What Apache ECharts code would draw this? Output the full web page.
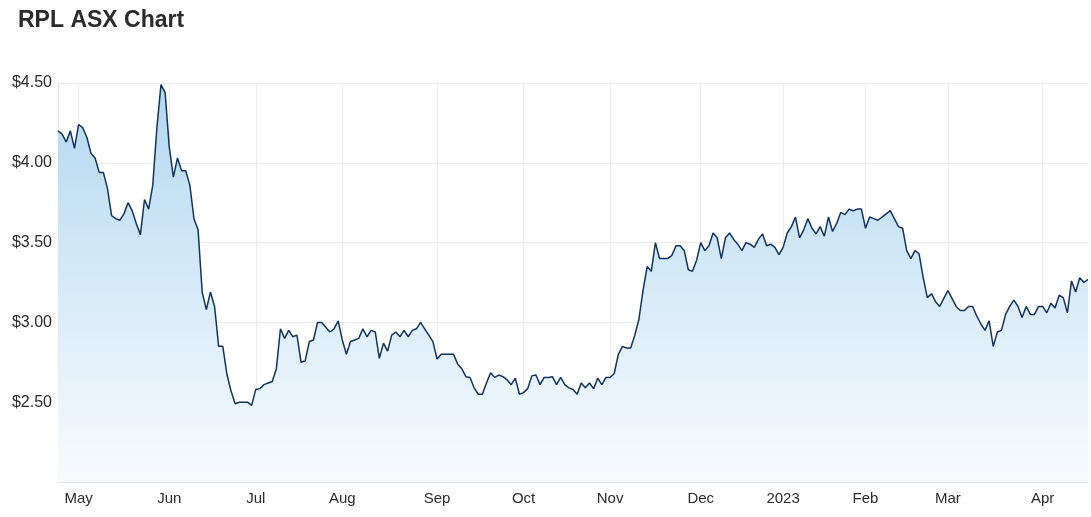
<!DOCTYPE html>
<html>
<head>
<meta charset="utf-8">
<title>RPL ASX Chart</title>
<script src="https://cdn.jsdelivr.net/npm/echarts@6/dist/echarts.min.js"></script>
<style>
  html, body { margin: 0; padding: 0; background: #ffffff; }
  #chart { width: 1091px; height: 517px; }
</style>
</head>
<body>
<div id="chart"></div>
<script>
  // trading days from 22 Apr 2022, ASX holidays skipped
  const startDate = '2022-04-22';
  const holidays = [
    '2022-04-25', '2022-06-13', '2022-09-22', '2022-12-26', '2022-12-27',
    '2023-01-02', '2023-01-26', '2023-04-07', '2023-04-10',
  ];
  const monthNames = ['Jan', 'Feb', 'Mar', 'Apr', 'May', 'Jun', 'Jul', 'Aug', 'Sep', 'Oct', 'Nov', 'Dec'];

  // closing prices
  const prices = [
    4.20, 4.18, 4.13, 4.20, 4.09, 4.24, 4.22, 4.16, 4.06, 4.03,
    3.94, 3.94, 3.84, 3.67, 3.65, 3.64, 3.68, 3.75, 3.70, 3.62,
    3.55, 3.77, 3.71, 3.86, 4.22, 4.49, 4.44, 4.10, 3.91, 4.03,
    3.95, 3.95, 3.86, 3.65, 3.58, 3.19, 3.08, 3.19, 3.10, 2.85,
    2.85, 2.675, 2.57, 2.49, 2.50, 2.50, 2.50, 2.48, 2.58, 2.585,
    2.61, 2.62, 2.63, 2.71, 2.96, 2.90, 2.95, 2.91, 2.92, 2.75,
    2.76, 2.88, 2.89, 3.00, 3.00, 2.97, 2.94, 2.96, 3.01, 2.89,
    2.80, 2.88, 2.89, 2.90, 2.96, 2.91, 2.95, 2.94, 2.775, 2.87,
    2.82, 2.92, 2.94, 2.91, 2.95, 2.91, 2.95, 2.96, 3.00, 2.96,
    2.92, 2.88, 2.77, 2.80, 2.80, 2.80, 2.80, 2.74, 2.71, 2.66,
    2.655, 2.59, 2.55, 2.55, 2.62, 2.685, 2.655, 2.67, 2.66, 2.64,
    2.61, 2.65, 2.55, 2.56, 2.585, 2.665, 2.67, 2.61, 2.655, 2.655,
    2.66, 2.61, 2.655, 2.61, 2.59, 2.58, 2.55, 2.62, 2.59, 2.62,
    2.585, 2.65, 2.61, 2.655, 2.655, 2.68, 2.80, 2.85, 2.84, 2.84,
    2.92, 3.02, 3.20, 3.35, 3.32, 3.50, 3.40, 3.40, 3.40, 3.42,
    3.48, 3.48, 3.45, 3.33, 3.32, 3.39, 3.50, 3.45, 3.48, 3.56,
    3.53, 3.40, 3.53, 3.56, 3.52, 3.49, 3.45, 3.50, 3.49, 3.47,
    3.52, 3.555, 3.48, 3.49, 3.47, 3.425, 3.47, 3.56, 3.60, 3.66,
    3.53, 3.58, 3.65, 3.59, 3.555, 3.60, 3.54, 3.66, 3.57, 3.62,
    3.69, 3.675, 3.71, 3.70, 3.71, 3.71, 3.59, 3.66, 3.65, 3.64,
    3.66, 3.68, 3.70, 3.65, 3.60, 3.59, 3.45, 3.40, 3.45, 3.43,
    3.28, 3.155, 3.18, 3.13, 3.10, 3.15, 3.20, 3.15, 3.10, 3.075,
    3.075, 3.10, 3.10, 3.04, 2.99, 2.95, 3.01, 2.85, 2.94, 2.95,
    3.05, 3.10, 3.14, 3.10, 3.03, 3.10, 3.05, 3.05, 3.10, 3.10,
    3.06, 3.12, 3.09, 3.17, 3.155, 3.06, 3.26, 3.19, 3.28, 3.25,
    3.27,
  ];

  const yTicks = [2.5, 3.0, 3.5, 4.0, 4.5];

  const tradingDays = [];
  const d = new Date(startDate + 'T00:00:00Z');
  while (tradingDays.length < prices.length) {
    const iso = d.toISOString().slice(0, 10);
    const wd = d.getUTCDay();
    if (wd !== 0 && wd !== 6 && holidays.indexOf(iso) === -1) tradingDays.push(iso);
    d.setUTCDate(d.getUTCDate() + 1);
  }

  // first trading day of each month gets a label and a grid line
  const isMonthStart = (i) => i > 0 && tradingDays[i].slice(5, 7) !== tradingDays[i - 1].slice(5, 7);
  const monthLabel = (iso) => {
    const m = parseInt(iso.slice(5, 7), 10) - 1;
    return m === 0 ? iso.slice(0, 4) : monthNames[m];
  };

  const myChart = echarts.init(document.getElementById('chart'));
  myChart.setOption({
    animation: false,
    title: {
      text: 'RPL ASX Chart',
      left: 13,
      top: 4,
      textStyle: {
        color: '#2b2b2b',
        fontSize: 23,
        fontWeight: 'bold',
        fontFamily: 'Liberation Sans, Arial, sans-serif',
      },
    },
    grid: {
      left: 58,
      right: 3,
      top: 83,
      bottom: 35,
    },
    xAxis: {
      type: 'category',
      data: tradingDays,
      boundaryGap: false,
      axisLine: { lineStyle: { color: '#e3e3e3' } },
      axisTick: { show: false },
      axisLabel: {
        interval: (i) => isMonthStart(i),
        formatter: (v) => monthLabel(v),
        color: '#2b2b2b',
        fontSize: 15,
        margin: 9,
        fontFamily: 'Liberation Sans, Arial, sans-serif',
      },
      splitLine: {
        show: true,
        interval: (i) => isMonthStart(i),
        lineStyle: { color: '#ececec' },
      },
    },
    yAxis: {
      type: 'value',
      min: 2,
      max: 4.5,
      interval: 0.5,
      axisLine: { show: true, lineStyle: { color: '#e3e3e3' } },
      axisTick: { show: false },
      axisLabel: {
        color: '#2b2b2b',
        fontSize: 16,
        margin: 6,
        padding: [5, 0, 0, 0],
        fontFamily: 'Liberation Sans, Arial, sans-serif',
        formatter: (v) => (yTicks.indexOf(v) === -1 ? '' : '$' + v.toFixed(2)),
      },
      splitLine: { lineStyle: { color: '#ececec' } },
    },
    series: [
      {
        type: 'line',
        data: prices,
        symbol: 'none',
        lineStyle: { color: '#12335f', width: 1.5 },
        areaStyle: {
          opacity: 1,
          color: new echarts.graphic.LinearGradient(0, 0, 0, 1, [
            { offset: 0, color: '#b2d7ef' },
            { offset: 0.5, color: '#d6eaf7' },
            { offset: 1, color: '#f8fbfe' },
          ]),
        },
      },
    ],
  });
</script>
</body>
</html>
